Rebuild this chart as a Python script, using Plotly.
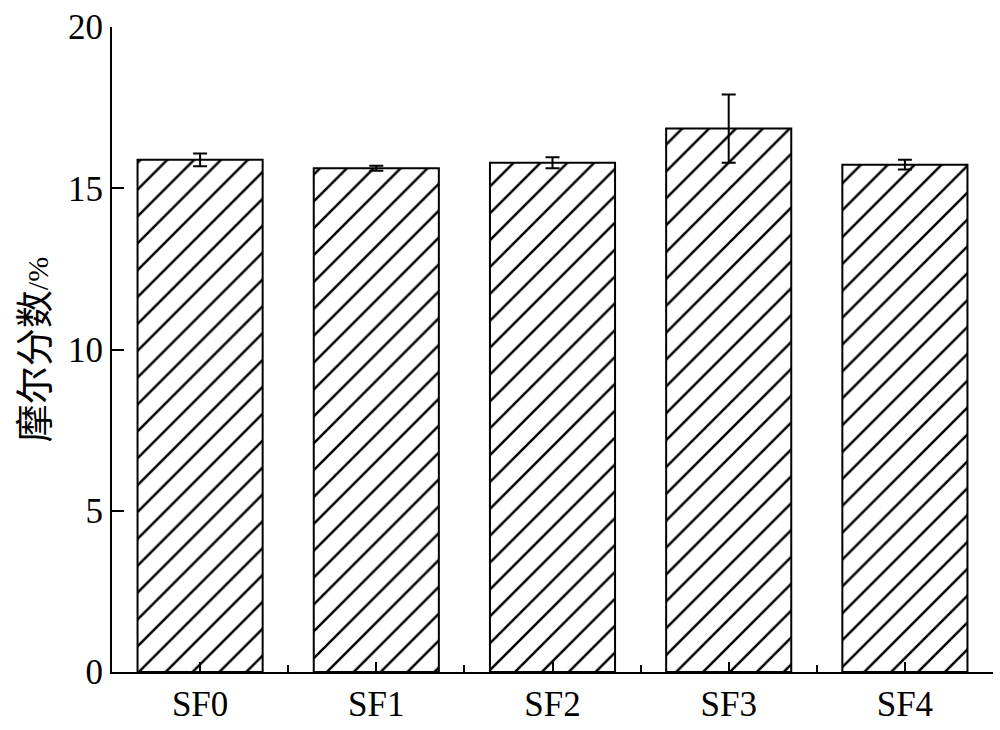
import plotly.graph_objects as go

categories = ["SF0", "SF1", "SF2", "SF3", "SF4"]
values = [15.88, 15.62, 15.79, 16.85, 15.73]
errors = [0.20, 0.08, 0.17, 1.06, 0.15]
y_ticks = [0, 5, 10, 15, 20]

xpos = list(range(len(categories)))

fig = go.Figure()
fig.add_trace(go.Bar(
    x=xpos, y=values, width=0.71,
    marker=dict(color="white", line=dict(color="black", width=2),
                pattern=dict(shape="/", fgcolor="black", fgopacity=1, bgcolor="white", size=19, solidity=0.13)),
    error_y=dict(type="data", array=errors, visible=True, color="black", thickness=2, width=7),
))

font = "Liberation Serif, Times New Roman, serif"
fig.update_layout(
    width=1000, height=730,
    margin=dict(l=112, r=7, t=27, b=58, autoexpand=False),
    plot_bgcolor="white", paper_bgcolor="white",
    showlegend=False,
    font=dict(family=font, size=35, color="black"),
    xaxis=dict(
        range=[-0.5, len(categories) - 0.5],
        tickvals=xpos, ticktext=categories,
        ticks="inside", ticklen=10, tickwidth=2, tickcolor="black",
        minor=dict(ticks="inside", tick0=0.5, dtick=1, ticklen=7, tickwidth=2, tickcolor="black"),
        showline=True, linecolor="black", linewidth=2,
        showgrid=False, zeroline=False, automargin=False,
        tickfont=dict(family=font, size=35),
    ),
    yaxis=dict(
        range=[0, 20],
        tickvals=y_ticks,
        ticks="inside", ticklen=12, tickwidth=2, tickcolor="black",
        showline=True, linecolor="black", linewidth=2,
        showgrid=False, zeroline=False, automargin=False,
        tickfont=dict(family=font, size=35),
        title=dict(text="<span style='font-family:Noto Sans CJK SC'>摩尔分数</span><span style='font-size:30px'>/%</span>",
                   font=dict(family=font, size=38), standoff=8),
    ),
)

fig.write_html(
    "out.html",
    config={"displayModeBar": False},
    post_script="document.body.style.margin='0px'; document.body.style.overflow='hidden';",
)
